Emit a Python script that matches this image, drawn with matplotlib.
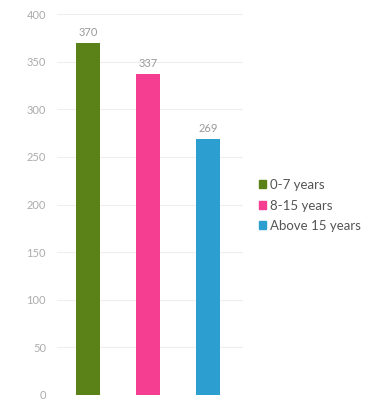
import matplotlib.pyplot as plt
from matplotlib.patches import Patch

categories = ["0-7 years", "8-15 years", "Above 15 years"]
values = [370, 337, 269]
colors = ["#5b8218", "#f53d92", "#2c9fd0"]
yticks = [0, 50, 100, 150, 200, 250, 300, 350, 400]

plt.rcParams['font.family'] = ['Lato', 'DejaVu Sans']

fig = plt.figure(figsize=(3.71, 4.03), dpi=100)
ax = fig.add_axes([0.154, 0.02, 0.50, 0.945])

x = list(range(len(categories)))
ax.bar(x, values, width=0.4, color=colors, zorder=3)
for xi, v in zip(x, values):
    ax.text(xi, v + 5, str(v), ha='center', va='bottom', fontsize=8,
            color='#999999')

ax.set_xlim(-0.52, 2.58)
ax.set_ylim(0, 400)
ax.set_yticks(yticks)
ax.set_xticks([])
ax.tick_params(axis='y', length=0, labelsize=8, labelcolor='#ababab', pad=8)
ax.grid(axis='y', color='#eeeeee', linewidth=0.8, zorder=0)
for s in ax.spines.values():
    s.set_visible(False)

handles = [Patch(color=c, label=l) for c, l in zip(colors, categories)]
fig.legend(handles=handles, loc='center left', bbox_to_anchor=(0.665, 0.49),
           frameon=False, fontsize=9.5, handlelength=0.55, handleheight=0.55,
           handletextpad=0.3, labelspacing=0.65, labelcolor='#555555')

fig.savefig("out.png", dpi=100)
